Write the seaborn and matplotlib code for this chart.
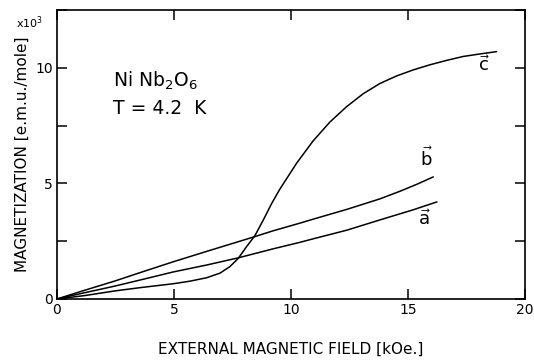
import numpy as np
import pandas as pd
import seaborn as sns
import matplotlib.pyplot as plt
from matplotlib.ticker import MultipleLocator

# magnetization of NiNb2O6 at 4.2 K (x10^3 e.m.u./mole)
field_c = [0, 1.2, 2.48, 3.55, 4.97, 5.68, 6.4, 6.97, 7.39, 7.75, 8.1, 8.46, 8.82, 9.17, 9.53,
           10.24, 10.95, 11.67, 12.38, 13.09, 13.8, 14.52, 15.23, 15.94, 16.65, 17.36, 18.08, 18.79]
mag_c = [0, 0.15, 0.35, 0.49, 0.66, 0.77, 0.92, 1.12, 1.4, 1.76, 2.26, 2.74, 3.42, 4.12, 4.76,
         5.87, 6.84, 7.66, 8.32, 8.88, 9.32, 9.65, 9.91, 10.13, 10.32, 10.49, 10.6, 10.7]

field_b = [0, 1, 2.48, 3.55, 4.97, 6.4, 7.82, 8.46, 9.24, 10.38, 10.94, 12.4, 13.8, 14.66, 15.4, 16.08]
mag_b = [0, 0.32, 0.78, 1.14, 1.61, 2.06, 2.5, 2.7, 2.95, 3.28, 3.45, 3.88, 4.33, 4.66, 4.97, 5.28]

field_a = [0, 1, 2.48, 3.55, 4.97, 6.4, 7.75, 9.24, 10.38, 10.94, 12.4, 13.8, 15.2, 16.24]
mag_a = [0, 0.23, 0.56, 0.82, 1.17, 1.47, 1.78, 2.17, 2.45, 2.6, 2.98, 3.42, 3.85, 4.2]

df = pd.concat([
    pd.DataFrame({"H": field_c, "M": mag_c, "axis": "c"}),
    pd.DataFrame({"H": field_b, "M": mag_b, "axis": "b"}),
    pd.DataFrame({"H": field_a, "M": mag_a, "axis": "a"}),
])

sns.set_style("ticks")
plt.rcParams['font.family'] = ['DejaVu Sans']
for key in ["text.color", "axes.labelcolor", "xtick.color", "ytick.color", "axes.edgecolor"]:
    plt.rcParams[key] = "black"

fig = plt.figure(figsize=(5.34, 3.64), dpi=100)
ax = fig.add_axes([0.1067, 0.1786, 0.8763, 0.7939])

sns.lineplot(ax=ax, data=df, x="H", y="M", units="axis", estimator=None,
             color="black", linewidth=1.1, sort=False)

ax.set_xlim(0, 20)
ax.set_ylim(0, 12.5)
ax.xaxis.set_major_locator(MultipleLocator(5))
ax.yaxis.set_major_locator(MultipleLocator(5))
ax.yaxis.set_minor_locator(MultipleLocator(2.5))
ax.tick_params(which="both", direction="in", top=True, right=True,
               length=7, width=1.1, labelsize=10, pad=3)
ax.tick_params(axis="x", labeltop=False)
for s in ax.spines.values():
    s.set_linewidth(1.2)

ax.set_xlabel("EXTERNAL MAGNETIC FIELD [kOe.]", fontsize=11, labelpad=18)
ax.set_ylabel("MAGNETIZATION [e.m.u./mole]", fontsize=11, labelpad=4)
ax.text(-0.03, 0.985, r"x$10^3$", transform=ax.transAxes, fontsize=8,
        ha="right", va="top")

ax.text(2.4, 9.45, r"Ni Nb$_2$O$_6$", fontsize=13.5, va="center")
ax.text(2.4, 8.25, "T = 4.2  K", fontsize=13.5, va="center")
ax.text(18.25, 10.1, r"$\vec{\mathrm{c}}$", fontsize=13, ha="center", va="center")
ax.text(15.8, 6.1, r"$\vec{\mathrm{b}}$", fontsize=13, ha="center", va="center")
ax.text(15.7, 3.45, r"$\vec{\mathrm{a}}$", fontsize=13, ha="center", va="center")

fig.savefig("out.png", dpi=100)
